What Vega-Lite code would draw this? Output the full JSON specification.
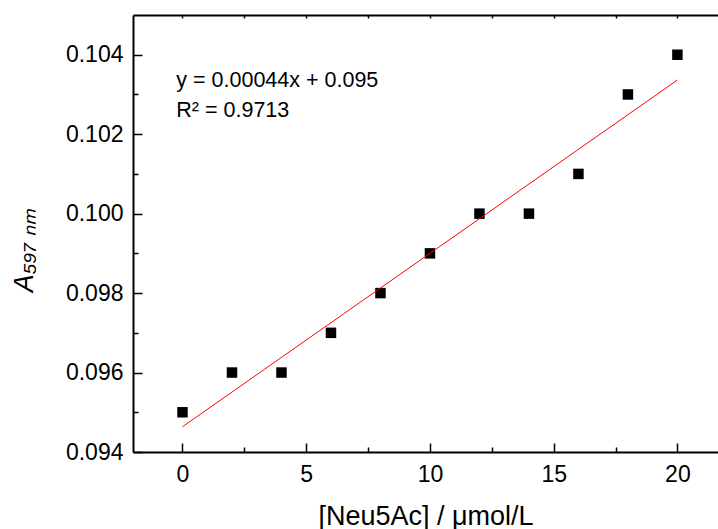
{
  "$schema": "https://vega.github.io/schema/vega-lite/v6.json",
  "width": 585,
  "height": 437,
  "autosize": "none",
  "padding": {"left": 133, "top": 15, "right": 0, "bottom": 77},
  "background": "white",
  "config": {
    "font": "Liberation Sans",
    "view": {"stroke": null},
    "axis": {"grid": false, "domainColor": "black", "domainWidth": 2, "tickColor": "black", "tickWidth": 1.5, "labelColor": "black", "titleColor": "black", "labelFont": "Liberation Sans", "titleFont": "Liberation Sans", "titleFontWeight": "normal", "labelFontSize": 23, "titleFontSize": 27, "labelFlush": false}
  },
  "data": {"values": [
    {"x": 0, "y": 0.095},
    {"x": 2, "y": 0.096},
    {"x": 4, "y": 0.096},
    {"x": 6, "y": 0.097},
    {"x": 8, "y": 0.098},
    {"x": 10, "y": 0.099},
    {"x": 12, "y": 0.100},
    {"x": 14, "y": 0.100},
    {"x": 16, "y": 0.101},
    {"x": 18, "y": 0.103},
    {"x": 20, "y": 0.104}
  ]},
  "layer": [
    {
      "mark": {"type": "square", "size": 110, "color": "black", "opacity": 1, "filled": true},
      "encoding": {
        "x": {"field": "x", "type": "quantitative", "scale": {"domain": [-2, 21.64], "nice": false, "zero": false},
          "axis": {"orient": "bottom", "values": [0, 5, 10, 15, 20], "tickSize": -9, "labelPadding": 20, "title": "[Neu5Ac] / μmol/L", "titlePadding": 17}},
        "y": {"field": "y", "type": "quantitative", "scale": {"domain": [0.094, 0.105], "nice": false, "zero": false},
          "axis": {"orient": "left", "values": [0.094, 0.096, 0.098, 0.1, 0.102, 0.104], "format": ".3f", "tickSize": -9, "labelPadding": 19, "title": "A₅₉₇ ₙₘ", "titleFontStyle": "italic", "titlePadding": 27, "titleY": 235}}
      }
    },
    {
      "mark": {"type": "point", "opacity": 0},
      "encoding": {
        "x": {"field": "x", "type": "quantitative",
          "axis": {"orient": "bottom", "values": [2.5, 7.5, 12.5, 17.5], "tickSize": -5, "labels": false, "domain": false, "title": null}},
        "y": {"field": "y", "type": "quantitative",
          "axis": {"orient": "left", "values": [0.095, 0.097, 0.099, 0.101, 0.103], "tickSize": -5, "labels": false, "domain": false, "title": null}}
      }
    },
    {
      "mark": {"type": "point", "opacity": 0},
      "encoding": {
        "x": {"field": "x", "type": "quantitative",
          "axis": {"orient": "top", "values": [0, 2.5, 5, 7.5, 10, 12.5, 15, 17.5, 20], "tickSize": -3, "labels": false, "domain": true, "title": null}},
        "y": {"field": "y", "type": "quantitative", "axis": null}
      }
    },
    {
      "transform": [{"regression": "y", "on": "x"}],
      "mark": {"type": "line", "color": "#ff0000", "strokeWidth": 1},
      "encoding": {
        "x": {"field": "x", "type": "quantitative", "axis": null},
        "y": {"field": "y", "type": "quantitative", "axis": null}
      }
    },
    {
      "data": {"values": [
        {"label": "y = 0.00044x + 0.095", "x": -0.25, "y": 0.10319},
        {"label": "R² = 0.9713", "x": -0.25, "y": 0.10244}
      ]},
      "mark": {"type": "text", "align": "left", "baseline": "alphabetic", "fontSize": 21.5, "font": "Liberation Sans", "color": "black"},
      "encoding": {
        "x": {"field": "x", "type": "quantitative", "axis": null},
        "y": {"field": "y", "type": "quantitative", "axis": null},
        "text": {"field": "label"}
      }
    }
  ],
  "resolve": {"axis": {"x": "independent", "y": "independent"}}
}
